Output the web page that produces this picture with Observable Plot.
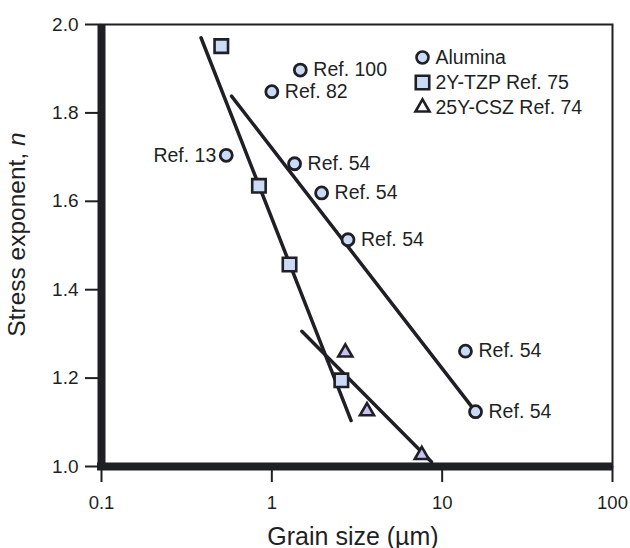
<!DOCTYPE html>
<html>
<head>
<meta charset="utf-8">
<script src="https://cdn.jsdelivr.net/npm/d3@7"></script>
<script src="https://cdn.jsdelivr.net/npm/@observablehq/plot@0.6"></script>
<style>
  html, body { margin: 0; padding: 0; background: #fff; }
  #chart { width: 630px; height: 548px; }
</style>
</head>
<body>
<div id="chart"></div>
<script>
// Alumina: grain size (µm), stress exponent n, source reference
const aluminaSize = [1.47, 1.0, 0.54, 1.36, 1.96, 2.80, 13.7, 15.7];
const aluminaN    = [1.897, 1.848, 1.704, 1.685, 1.619, 1.513, 1.261, 1.124];
const aluminaRef  = ["Ref. 100", "Ref. 82", "Ref. 13", "Ref. 54", "Ref. 54", "Ref. 54", "Ref. 54", "Ref. 54"];
// References whose label sits on the left of the marker
const leftLabelled = ["Ref. 13"];

// 2Y-TZP (Ref. 75)
const tzpSize = [0.505, 0.84, 1.27, 2.56];
const tzpN    = [1.951, 1.635, 1.457, 1.195];

// 25Y-CSZ (Ref. 74)
const cszSize = [2.70, 3.62, 7.59];
const cszN    = [1.258, 1.125, 1.026];

// Fitted trend lines (end points)
const fitGroup = ["2Y-TZP", "2Y-TZP", "Alumina", "Alumina", "25Y-CSZ", "25Y-CSZ"];
const fitSize  = [0.384, 2.92, 0.58, 15.7, 1.50, 8.67];
const fitN     = [1.97, 1.104, 1.838, 1.124, 1.306, 1.01];

// Axes
const xTicks = [0.1, 1, 10, 100];
const xTickLabels = ["0.1", "1", "10", "100"];
const yTicks = [1.0, 1.2, 1.4, 1.6, 1.8, 2.0];
const xTitle = "Grain size (µm)";
const yTitle = "Stress exponent, n";

// Legend entries
const legendLabels = ["Alumina", "2Y-TZP Ref. 75", "25Y-CSZ Ref. 74"];
const legendSymbols = ["circle", "square", "triangle"];

const ink = "#1f1f26";
const blue = "#cbdaf5";
const lavender = "#c6c3ef";

const alumina = aluminaSize.map((x, i) => ({x, y: aluminaN[i], ref: aluminaRef[i]}));
const tzp = tzpSize.map((x, i) => ({x, y: tzpN[i]}));
const csz = cszSize.map((x, i) => ({x, y: cszN[i]}));
const fits = fitSize.map((x, i) => ({x, y: fitN[i], g: fitGroup[i]}));
const legendFill = {circle: blue, square: blue, triangle: "#ffffff"};
const legendR = {circle: 6, square: 7.6, triangle: 5.2};

const legendMarks = legendLabels.flatMap((label, i) => [
  Plot.dot([label], {
    frameAnchor: "top-left", dx: 321, dy: 33 + 25 * i,
    symbol: legendSymbols[i], r: legendR[legendSymbols[i]],
    fill: legendFill[legendSymbols[i]], stroke: ink, strokeWidth: 2.6
  }),
  Plot.text([label], {
    frameAnchor: "top-left", dx: 334, dy: 33 + 25 * i,
    text: d => d, textAnchor: "start", lineAnchor: "middle", fontSize: 19.5, fill: ink
  })
]);

const plot = Plot.plot({
  width: 630,
  height: 548,
  marginLeft: 101,
  marginRight: 18,
  marginTop: 24,
  marginBottom: 82,
  style: {fontFamily: "'Liberation Sans', Arial, Helvetica, sans-serif", fontSize: "18px", color: ink, background: "#fff"},
  x: {type: "log", domain: [0.1, 100]},
  y: {domain: [1, 2]},
  marks: [
    Plot.frame({stroke: ink, strokeWidth: 2}),
    Plot.axisX({ticks: xTicks, tickSize: 16, tickPadding: 13, strokeWidth: 2,
      tickFormat: d => xTickLabels[xTicks.indexOf(d)], label: null, fontSize: 18.5}),
    Plot.axisY({ticks: yTicks, tickSize: 16, tickPadding: 7, strokeWidth: 2,
      tickFormat: d3.format(".1f"), label: null, fontSize: 19}),
    Plot.ruleX([0.1], {stroke: ink, strokeWidth: 8, insetBottom: -4}),
    Plot.ruleY([1], {stroke: ink, strokeWidth: 8, insetLeft: -4}),
    Plot.line(fits, {x: "x", y: "y", z: "g", stroke: ink, strokeWidth: 3.5}),
    Plot.dot(alumina, {x: "x", y: "y", r: 6, fill: blue, stroke: ink, strokeWidth: 2.8}),
    Plot.dot(tzp, {x: "x", y: "y", symbol: "square", r: 7.6, fill: blue, stroke: ink, strokeWidth: 2.6}),
    Plot.dot(csz, {x: "x", y: "y", symbol: "triangle", r: 5.2, fill: lavender, stroke: ink, strokeWidth: 2.6}),
    Plot.text(alumina.filter(d => !leftLabelled.includes(d.ref)), {x: "x", y: "y", text: "ref",
      textAnchor: "start", dx: 13, fontSize: 19.5, fill: ink}),
    Plot.text(alumina.filter(d => leftLabelled.includes(d.ref)), {x: "x", y: "y", text: "ref",
      textAnchor: "end", dx: -10, fontSize: 19.5, fill: ink}),
    ...legendMarks,
    Plot.text([xTitle], {frameAnchor: "bottom", dx: -4, dy: 70, text: d => d,
      textAnchor: "middle", lineAnchor: "middle", fontSize: 25, fill: ink}),
    Plot.text([yTitle], {frameAnchor: "left", dx: -84, dy: -11, rotate: -90, text: d => d,
      textAnchor: "middle", lineAnchor: "middle", fontSize: 24.5, fill: ink})
  ]
});

// Italic n in the y-axis title
d3.select(plot).selectAll("text").filter(function () { return this.textContent === yTitle; })
  .each(function () {
    const t = d3.select(this);
    t.text(null);
    t.append("tspan").text("Stress exponent, ");
    t.append("tspan").attr("font-style", "italic").text("n");
  });

document.getElementById("chart").appendChild(plot);
</script>
</body>
</html>
